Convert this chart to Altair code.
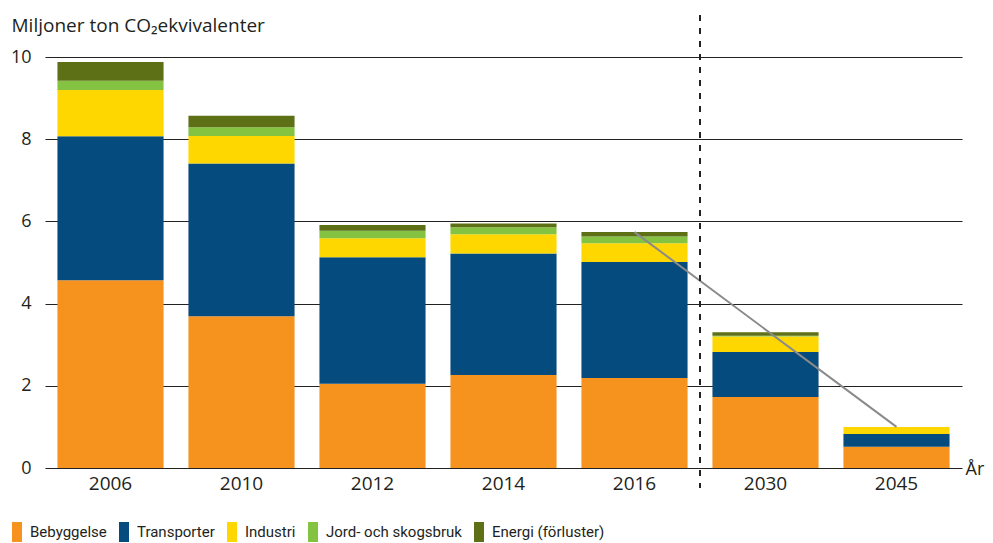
import altair as alt
import pandas as pd

years = ["2006", "2010", "2012", "2014", "2016", "2030", "2045"]
categories = ["Bebyggelse", "Transporter", "Industri", "Jord- och skogsbruk", "Energi (förluster)"]
bebyggelse = [4.57, 3.69, 2.05, 2.26, 2.19, 1.73, 0.52]
transporter = [3.50, 3.72, 3.08, 2.96, 2.82, 1.09, 0.31]
industri = [1.13, 0.67, 0.46, 0.47, 0.46, 0.38, 0.17]
jord = [0.22, 0.21, 0.18, 0.17, 0.16, 0.02, 0.0]
energi = [0.46, 0.28, 0.14, 0.09, 0.11, 0.08, 0.0]
colors = ["#F6921E", "#064B7E", "#FFD700", "#84C341", "#5E7016"]
y_ticks = [0, 2, 4, 6, 8, 10]
trend_years = ["2016", "2045"]
divider_before = ["2030"]

series = [bebyggelse, transporter, industri, jord, energi]
rows = []
for ci, (cat, vals) in enumerate(zip(categories, series)):
    for yr, v in zip(years, vals):
        rows.append({"year": yr, "cat": cat, "value": v, "ord": ci})
df = pd.DataFrame(rows)

totals = df.groupby("year")["value"].sum()
trend_df = pd.DataFrame({"year": trend_years, "total": [totals[y] for y in trend_years]})
div_df = pd.DataFrame({"year": divider_before})

FONT = "Open Sans"
TXT = "#231f20"
W, H = 917, 411
P_INNER = 0.19
STEP = W / len(years)

xscale = alt.Scale(domain=years, paddingInner=P_INNER, paddingOuter=P_INNER / 2)
yscale = alt.Scale(domain=[0, 10])

bars = alt.Chart(df).mark_bar().encode(
    x=alt.X("year:N", scale=xscale,
            axis=alt.Axis(title="År", titleX=920, titleY=6, titleAlign="left",
                          titleBaseline="alphabetic", titleFontSize=18, titleFontWeight="normal",
                          titleFont=FONT, titleColor=TXT, labelAngle=0, labelFontSize=19,
                          labelFont=FONT, labelColor=TXT, labelPadding=6, ticks=False,
                          domain=False)),
    y=alt.Y("value:Q", stack="zero", scale=yscale,
            axis=alt.Axis(values=y_ticks, grid=True, gridColor="#222222", gridWidth=1.2,
                          domain=False, ticks=False, labelPadding=14, labelFontSize=18,
                          labelFont=FONT, labelColor=TXT,
                          title="Miljoner ton CO₂ekvivalenter", titleAngle=0, titleX=-34,
                          titleY=-26, titleAlign="left", titleBaseline="alphabetic",
                          titleFontSize=19, titleFontWeight="normal", titleFont=FONT,
                          titleColor=TXT)),
    color=alt.Color("cat:N", scale=alt.Scale(domain=categories, range=colors),
                    legend=alt.Legend(orient="none", legendX=-38, legendY=465,
                                      direction="horizontal", title=None,
                                      symbolType="M-0.5,-1H0.5V1H-0.5Z", symbolSize=400,
                                      symbolStrokeWidth=0, labelFontSize=15,
                                      labelFont="Roboto",
                                      labelColor=TXT, columnPadding=7, labelOffset=3)),
    order=alt.Order("ord:Q"),
)

trend = alt.Chart(trend_df).mark_line(color="#8a8a8a", strokeWidth=2).encode(
    x=alt.X("year:N", scale=xscale),
    y=alt.Y("total:Q", scale=yscale),
)

divider = alt.Chart(div_df).mark_rule(
    color="#222222", strokeWidth=2, strokeDash=[6, 7], xOffset=-P_INNER * STEP / 2
).encode(
    x=alt.X("year:N", scale=xscale, bandPosition=0),
    y=alt.value(-42),
    y2=alt.value(H + 20),
)

chart = alt.layer(bars, trend, divider).properties(
    width=W, height=H,
    autosize=alt.AutoSizeParams(type="none"),
    padding={"left": 37, "top": 49, "right": 23, "bottom": 80},
).configure_view(stroke=None)

chart.save("out.html", embed_options={"renderer": "svg", "actions": False})
